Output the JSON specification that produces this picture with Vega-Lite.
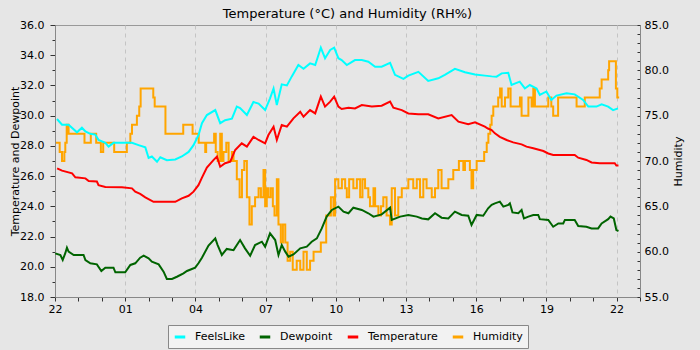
{
  "$schema": "https://vega.github.io/schema/vega-lite/v6.json",
  "width": 585,
  "height": 272,
  "autosize": "none",
  "padding": {"left": 55, "top": 25, "right": 60, "bottom": 53},
  "background": "#e6e6e6",
  "title": {"text": "Temperature (°C) and Humidity (RH%)", "fontSize": 13, "font": "DejaVu Sans", "fontWeight": "normal", "color": "#000000", "offset": -2},
  "config": {
    "font": "DejaVu Sans",
    "view": {"stroke": "#999999", "strokeWidth": 1},
    "axis": {
      "labelFont": "DejaVu Sans", "labelFontSize": 11, "labelColor": "#000000",
      "titleFont": "DejaVu Sans", "titleFontSize": 11, "titleFontWeight": "normal", "titleColor": "#000000",
      "domainColor": "#888888", "tickColor": "#333333",
      "gridColor": "#c4c4c4", "gridDash": [4, 4], "gridWidth": 1,
      "labelOverlap": false, "labelBound": false, "labelFlush": false
    }
  },
  "datasets": {
    "th": [
      {"t":0.085,"s":"FeelsLike","v":29.78},{"t":0.3,"s":"FeelsLike","v":29.4},{"t":0.58,"s":"FeelsLike","v":29.4},{"t":0.94,"s":"FeelsLike","v":28.9},{"t":1.15,"s":"FeelsLike","v":29.2},{"t":1.3,"s":"FeelsLike","v":28.95},{"t":1.51,"s":"FeelsLike","v":28.8},{"t":1.72,"s":"FeelsLike","v":28.75},{"t":1.86,"s":"FeelsLike","v":28.4},{"t":2.15,"s":"FeelsLike","v":28.2},{"t":2.29,"s":"FeelsLike","v":27.95},{"t":2.5,"s":"FeelsLike","v":28.2},{"t":3.0,"s":"FeelsLike","v":28.2},{"t":3.29,"s":"FeelsLike","v":28.2},{"t":3.57,"s":"FeelsLike","v":28.05},{"t":3.86,"s":"FeelsLike","v":27.9},{"t":4.0,"s":"FeelsLike","v":27.2},{"t":4.14,"s":"FeelsLike","v":27.3},{"t":4.36,"s":"FeelsLike","v":26.95},{"t":4.5,"s":"FeelsLike","v":27.25},{"t":4.78,"s":"FeelsLike","v":27.05},{"t":5.14,"s":"FeelsLike","v":27.1},{"t":5.42,"s":"FeelsLike","v":27.3},{"t":5.71,"s":"FeelsLike","v":27.6},{"t":5.92,"s":"FeelsLike","v":28.05},{"t":6.13,"s":"FeelsLike","v":28.7},{"t":6.28,"s":"FeelsLike","v":29.5},{"t":6.49,"s":"FeelsLike","v":30.04},{"t":6.85,"s":"FeelsLike","v":30.37},{"t":7.06,"s":"FeelsLike","v":29.5},{"t":7.27,"s":"FeelsLike","v":29.7},{"t":7.56,"s":"FeelsLike","v":29.8},{"t":7.77,"s":"FeelsLike","v":30.6},{"t":7.91,"s":"FeelsLike","v":30.5},{"t":8.2,"s":"FeelsLike","v":30.04},{"t":8.48,"s":"FeelsLike","v":30.9},{"t":8.7,"s":"FeelsLike","v":30.8},{"t":8.98,"s":"FeelsLike","v":30.37},{"t":9.19,"s":"FeelsLike","v":31.15},{"t":9.34,"s":"FeelsLike","v":31.8},{"t":9.48,"s":"FeelsLike","v":30.7},{"t":9.69,"s":"FeelsLike","v":32.07},{"t":9.91,"s":"FeelsLike","v":32.0},{"t":10.12,"s":"FeelsLike","v":32.6},{"t":10.4,"s":"FeelsLike","v":33.35},{"t":10.62,"s":"FeelsLike","v":33.1},{"t":10.9,"s":"FeelsLike","v":33.46},{"t":11.12,"s":"FeelsLike","v":33.35},{"t":11.36,"s":"FeelsLike","v":34.5},{"t":11.54,"s":"FeelsLike","v":33.8},{"t":11.76,"s":"FeelsLike","v":34.35},{"t":11.93,"s":"FeelsLike","v":34.5},{"t":12.11,"s":"FeelsLike","v":33.8},{"t":12.25,"s":"FeelsLike","v":33.68},{"t":12.47,"s":"FeelsLike","v":33.35},{"t":12.82,"s":"FeelsLike","v":33.68},{"t":13.11,"s":"FeelsLike","v":33.68},{"t":13.39,"s":"FeelsLike","v":33.57},{"t":13.68,"s":"FeelsLike","v":33.24},{"t":13.96,"s":"FeelsLike","v":33.24},{"t":14.32,"s":"FeelsLike","v":33.5},{"t":14.53,"s":"FeelsLike","v":32.7},{"t":14.89,"s":"FeelsLike","v":32.43},{"t":15.1,"s":"FeelsLike","v":32.65},{"t":15.53,"s":"FeelsLike","v":32.9},{"t":15.95,"s":"FeelsLike","v":32.3},{"t":16.38,"s":"FeelsLike","v":32.47},{"t":16.66,"s":"FeelsLike","v":32.7},{"t":17.09,"s":"FeelsLike","v":33.1},{"t":17.52,"s":"FeelsLike","v":32.87},{"t":17.95,"s":"FeelsLike","v":32.73},{"t":18.37,"s":"FeelsLike","v":32.65},{"t":18.66,"s":"FeelsLike","v":32.6},{"t":18.87,"s":"FeelsLike","v":32.58},{"t":19.09,"s":"FeelsLike","v":32.8},{"t":19.37,"s":"FeelsLike","v":32.84},{"t":19.51,"s":"FeelsLike","v":32.03},{"t":19.86,"s":"FeelsLike","v":32.25},{"t":20.08,"s":"FeelsLike","v":31.8},{"t":20.29,"s":"FeelsLike","v":32.03},{"t":20.58,"s":"FeelsLike","v":31.8},{"t":20.72,"s":"FeelsLike","v":31.37},{"t":21.0,"s":"FeelsLike","v":31.6},{"t":21.21,"s":"FeelsLike","v":31.04},{"t":21.43,"s":"FeelsLike","v":31.33},{"t":21.86,"s":"FeelsLike","v":31.48},{"t":22.21,"s":"FeelsLike","v":31.41},{"t":22.57,"s":"FeelsLike","v":31.04},{"t":22.79,"s":"FeelsLike","v":30.6},{"t":23.14,"s":"FeelsLike","v":30.6},{"t":23.36,"s":"FeelsLike","v":30.75},{"t":23.64,"s":"FeelsLike","v":30.6},{"t":23.85,"s":"FeelsLike","v":30.37},{"t":24.06,"s":"FeelsLike","v":30.48},
      {"t":0.01,"s":"Dewpoint","v":20.89},{"t":0.23,"s":"Dewpoint","v":20.78},{"t":0.33,"s":"Dewpoint","v":20.45},{"t":0.44,"s":"Dewpoint","v":20.9},{"t":0.51,"s":"Dewpoint","v":21.26},{"t":0.58,"s":"Dewpoint","v":21.0},{"t":0.8,"s":"Dewpoint","v":20.78},{"t":1.22,"s":"Dewpoint","v":20.78},{"t":1.3,"s":"Dewpoint","v":20.45},{"t":1.51,"s":"Dewpoint","v":20.23},{"t":1.79,"s":"Dewpoint","v":20.16},{"t":1.98,"s":"Dewpoint","v":19.72},{"t":2.15,"s":"Dewpoint","v":19.94},{"t":2.5,"s":"Dewpoint","v":19.94},{"t":2.58,"s":"Dewpoint","v":19.63},{"t":3.0,"s":"Dewpoint","v":19.63},{"t":3.22,"s":"Dewpoint","v":20.12},{"t":3.43,"s":"Dewpoint","v":20.23},{"t":3.64,"s":"Dewpoint","v":20.6},{"t":3.79,"s":"Dewpoint","v":20.74},{"t":4.0,"s":"Dewpoint","v":20.56},{"t":4.14,"s":"Dewpoint","v":20.34},{"t":4.43,"s":"Dewpoint","v":20.16},{"t":4.64,"s":"Dewpoint","v":19.68},{"t":4.78,"s":"Dewpoint","v":19.19},{"t":5.0,"s":"Dewpoint","v":19.19},{"t":5.21,"s":"Dewpoint","v":19.34},{"t":5.49,"s":"Dewpoint","v":19.56},{"t":5.64,"s":"Dewpoint","v":19.72},{"t":5.85,"s":"Dewpoint","v":19.85},{"t":5.99,"s":"Dewpoint","v":19.94},{"t":6.13,"s":"Dewpoint","v":20.23},{"t":6.28,"s":"Dewpoint","v":20.6},{"t":6.56,"s":"Dewpoint","v":21.4},{"t":6.85,"s":"Dewpoint","v":21.88},{"t":6.95,"s":"Dewpoint","v":21.44},{"t":7.13,"s":"Dewpoint","v":20.78},{"t":7.34,"s":"Dewpoint","v":21.18},{"t":7.63,"s":"Dewpoint","v":21.1},{"t":7.91,"s":"Dewpoint","v":21.77},{"t":8.12,"s":"Dewpoint","v":21.22},{"t":8.34,"s":"Dewpoint","v":20.73},{"t":8.55,"s":"Dewpoint","v":21.44},{"t":8.84,"s":"Dewpoint","v":21.66},{"t":8.98,"s":"Dewpoint","v":21.33},{"t":9.19,"s":"Dewpoint","v":22.21},{"t":9.41,"s":"Dewpoint","v":21.77},{"t":9.55,"s":"Dewpoint","v":20.78},{"t":9.69,"s":"Dewpoint","v":21.44},{"t":9.84,"s":"Dewpoint","v":21.0},{"t":9.98,"s":"Dewpoint","v":20.67},{"t":10.19,"s":"Dewpoint","v":20.82},{"t":10.48,"s":"Dewpoint","v":21.22},{"t":10.76,"s":"Dewpoint","v":21.33},{"t":10.97,"s":"Dewpoint","v":21.66},{"t":11.19,"s":"Dewpoint","v":21.88},{"t":11.4,"s":"Dewpoint","v":22.54},{"t":11.61,"s":"Dewpoint","v":23.32},{"t":11.83,"s":"Dewpoint","v":23.76},{"t":12.11,"s":"Dewpoint","v":23.98},{"t":12.33,"s":"Dewpoint","v":23.65},{"t":12.54,"s":"Dewpoint","v":23.54},{"t":12.75,"s":"Dewpoint","v":23.91},{"t":13.11,"s":"Dewpoint","v":23.76},{"t":13.39,"s":"Dewpoint","v":23.54},{"t":13.61,"s":"Dewpoint","v":23.32},{"t":13.96,"s":"Dewpoint","v":23.47},{"t":14.32,"s":"Dewpoint","v":23.91},{"t":14.39,"s":"Dewpoint","v":23.1},{"t":14.75,"s":"Dewpoint","v":23.32},{"t":15.1,"s":"Dewpoint","v":23.43},{"t":15.46,"s":"Dewpoint","v":23.32},{"t":15.68,"s":"Dewpoint","v":23.2},{"t":15.95,"s":"Dewpoint","v":23.14},{"t":16.24,"s":"Dewpoint","v":23.54},{"t":16.52,"s":"Dewpoint","v":23.25},{"t":16.81,"s":"Dewpoint","v":23.2},{"t":17.09,"s":"Dewpoint","v":23.65},{"t":17.38,"s":"Dewpoint","v":23.43},{"t":17.66,"s":"Dewpoint","v":23.38},{"t":17.8,"s":"Dewpoint","v":22.76},{"t":18.02,"s":"Dewpoint","v":23.43},{"t":18.3,"s":"Dewpoint","v":23.38},{"t":18.51,"s":"Dewpoint","v":23.87},{"t":18.66,"s":"Dewpoint","v":24.1},{"t":18.8,"s":"Dewpoint","v":24.2},{"t":19.01,"s":"Dewpoint","v":24.31},{"t":19.16,"s":"Dewpoint","v":23.98},{"t":19.37,"s":"Dewpoint","v":24.09},{"t":19.44,"s":"Dewpoint","v":24.2},{"t":19.55,"s":"Dewpoint","v":23.6},{"t":19.8,"s":"Dewpoint","v":23.54},{"t":19.94,"s":"Dewpoint","v":23.76},{"t":20.04,"s":"Dewpoint","v":23.2},{"t":20.23,"s":"Dewpoint","v":23.32},{"t":20.44,"s":"Dewpoint","v":23.43},{"t":20.65,"s":"Dewpoint","v":23.43},{"t":20.72,"s":"Dewpoint","v":23.15},{"t":21.08,"s":"Dewpoint","v":23.1},{"t":21.29,"s":"Dewpoint","v":22.65},{"t":21.51,"s":"Dewpoint","v":22.87},{"t":21.72,"s":"Dewpoint","v":22.87},{"t":21.79,"s":"Dewpoint","v":23.1},{"t":22.21,"s":"Dewpoint","v":23.1},{"t":22.36,"s":"Dewpoint","v":22.7},{"t":22.71,"s":"Dewpoint","v":22.65},{"t":22.93,"s":"Dewpoint","v":22.54},{"t":23.21,"s":"Dewpoint","v":22.54},{"t":23.36,"s":"Dewpoint","v":22.87},{"t":23.64,"s":"Dewpoint","v":23.15},{"t":23.74,"s":"Dewpoint","v":23.32},{"t":23.88,"s":"Dewpoint","v":23.2},{"t":23.99,"s":"Dewpoint","v":22.43},{"t":24.08,"s":"Dewpoint","v":22.37},
      {"t":0.09,"s":"Temperature","v":26.51},{"t":0.3,"s":"Temperature","v":26.36},{"t":0.73,"s":"Temperature","v":26.18},{"t":0.87,"s":"Temperature","v":25.92},{"t":1.3,"s":"Temperature","v":25.85},{"t":1.44,"s":"Temperature","v":25.68},{"t":1.79,"s":"Temperature","v":25.64},{"t":1.86,"s":"Temperature","v":25.4},{"t":2.15,"s":"Temperature","v":25.28},{"t":2.86,"s":"Temperature","v":25.26},{"t":3.29,"s":"Temperature","v":25.19},{"t":3.43,"s":"Temperature","v":24.97},{"t":3.64,"s":"Temperature","v":24.82},{"t":3.86,"s":"Temperature","v":24.6},{"t":4.21,"s":"Temperature","v":24.3},{"t":5.14,"s":"Temperature","v":24.3},{"t":5.42,"s":"Temperature","v":24.53},{"t":5.71,"s":"Temperature","v":24.7},{"t":5.92,"s":"Temperature","v":24.97},{"t":6.13,"s":"Temperature","v":25.4},{"t":6.28,"s":"Temperature","v":25.9},{"t":6.49,"s":"Temperature","v":26.56},{"t":6.77,"s":"Temperature","v":27.06},{"t":6.92,"s":"Temperature","v":27.29},{"t":7.06,"s":"Temperature","v":26.62},{"t":7.27,"s":"Temperature","v":26.85},{"t":7.49,"s":"Temperature","v":26.96},{"t":7.7,"s":"Temperature","v":27.73},{"t":7.98,"s":"Temperature","v":28.17},{"t":8.2,"s":"Temperature","v":27.95},{"t":8.48,"s":"Temperature","v":28.6},{"t":8.7,"s":"Temperature","v":28.39},{"t":8.98,"s":"Temperature","v":28.17},{"t":9.12,"s":"Temperature","v":28.72},{"t":9.34,"s":"Temperature","v":29.27},{"t":9.48,"s":"Temperature","v":28.39},{"t":9.69,"s":"Temperature","v":29.38},{"t":9.91,"s":"Temperature","v":29.27},{"t":10.19,"s":"Temperature","v":29.82},{"t":10.48,"s":"Temperature","v":30.26},{"t":10.62,"s":"Temperature","v":29.93},{"t":10.9,"s":"Temperature","v":30.37},{"t":11.12,"s":"Temperature","v":30.15},{"t":11.36,"s":"Temperature","v":31.26},{"t":11.54,"s":"Temperature","v":30.6},{"t":11.76,"s":"Temperature","v":30.93},{"t":11.93,"s":"Temperature","v":31.26},{"t":12.11,"s":"Temperature","v":30.6},{"t":12.25,"s":"Temperature","v":30.44},{"t":12.54,"s":"Temperature","v":30.53},{"t":12.82,"s":"Temperature","v":30.48},{"t":13.11,"s":"Temperature","v":30.7},{"t":13.54,"s":"Temperature","v":30.6},{"t":13.96,"s":"Temperature","v":30.66},{"t":14.32,"s":"Temperature","v":30.93},{"t":14.46,"s":"Temperature","v":30.53},{"t":14.82,"s":"Temperature","v":30.37},{"t":15.1,"s":"Temperature","v":30.15},{"t":15.53,"s":"Temperature","v":30.09},{"t":15.95,"s":"Temperature","v":30.09},{"t":16.38,"s":"Temperature","v":29.82},{"t":16.95,"s":"Temperature","v":30.04},{"t":17.24,"s":"Temperature","v":29.6},{"t":17.66,"s":"Temperature","v":29.43},{"t":17.95,"s":"Temperature","v":29.56},{"t":18.37,"s":"Temperature","v":29.27},{"t":18.5,"s":"Temperature","v":29.15},{"t":18.66,"s":"Temperature","v":29.05},{"t":18.8,"s":"Temperature","v":28.83},{"t":19.01,"s":"Temperature","v":28.6},{"t":19.3,"s":"Temperature","v":28.39},{"t":19.58,"s":"Temperature","v":28.23},{"t":19.94,"s":"Temperature","v":28.1},{"t":20.15,"s":"Temperature","v":27.95},{"t":20.44,"s":"Temperature","v":27.84},{"t":20.87,"s":"Temperature","v":27.66},{"t":21.08,"s":"Temperature","v":27.5},{"t":21.29,"s":"Temperature","v":27.4},{"t":21.72,"s":"Temperature","v":27.4},{"t":22.21,"s":"Temperature","v":27.4},{"t":22.36,"s":"Temperature","v":27.22},{"t":22.71,"s":"Temperature","v":27.07},{"t":22.93,"s":"Temperature","v":26.9},{"t":23.28,"s":"Temperature","v":26.85},{"t":23.92,"s":"Temperature","v":26.85},{"t":23.99,"s":"Temperature","v":26.7},{"t":24.08,"s":"Temperature","v":26.7}
    ],
    "hum": [
      {"t":0.04,"s":"Humidity","v":72},{"t":0.16,"s":"Humidity","v":72},{"t":0.2,"s":"Humidity","v":71},{"t":0.27,"s":"Humidity","v":71},{"t":0.3,"s":"Humidity","v":70},{"t":0.36,"s":"Humidity","v":70},{"t":0.4,"s":"Humidity","v":71},{"t":0.44,"s":"Humidity","v":72},{"t":0.5,"s":"Humidity","v":74},{"t":0.55,"s":"Humidity","v":74},{"t":0.58,"s":"Humidity","v":73},{"t":1.22,"s":"Humidity","v":73},{"t":1.26,"s":"Humidity","v":72},{"t":1.51,"s":"Humidity","v":72},{"t":1.53,"s":"Humidity","v":73},{"t":1.72,"s":"Humidity","v":73},{"t":1.76,"s":"Humidity","v":72},{"t":1.92,"s":"Humidity","v":72},{"t":1.96,"s":"Humidity","v":71},{"t":2.02,"s":"Humidity","v":71},{"t":2.06,"s":"Humidity","v":72},{"t":2.5,"s":"Humidity","v":72},{"t":2.53,"s":"Humidity","v":71},{"t":3.03,"s":"Humidity","v":71},{"t":3.07,"s":"Humidity","v":72},{"t":3.22,"s":"Humidity","v":73},{"t":3.29,"s":"Humidity","v":74},{"t":3.5,"s":"Humidity","v":75},{"t":3.6,"s":"Humidity","v":76},{"t":3.66,"s":"Humidity","v":78},{"t":4.16,"s":"Humidity","v":78},{"t":4.2,"s":"Humidity","v":77},{"t":4.26,"s":"Humidity","v":76},{"t":4.68,"s":"Humidity","v":76},{"t":4.72,"s":"Humidity","v":73},{"t":5.44,"s":"Humidity","v":73},{"t":5.48,"s":"Humidity","v":74},{"t":5.84,"s":"Humidity","v":74},{"t":5.88,"s":"Humidity","v":73},{"t":6.1,"s":"Humidity","v":73},{"t":6.14,"s":"Humidity","v":72},{"t":6.38,"s":"Humidity","v":72},{"t":6.42,"s":"Humidity","v":71},{"t":6.46,"s":"Humidity","v":72},{"t":6.74,"s":"Humidity","v":72},{"t":6.8,"s":"Humidity","v":73},{"t":6.87,"s":"Humidity","v":71},{"t":6.95,"s":"Humidity","v":70},{"t":7.06,"s":"Humidity","v":73},{"t":7.13,"s":"Humidity","v":70},{"t":7.2,"s":"Humidity","v":71},{"t":7.32,"s":"Humidity","v":72},{"t":7.42,"s":"Humidity","v":70},{"t":7.56,"s":"Humidity","v":71},{"t":7.63,"s":"Humidity","v":70},{"t":7.77,"s":"Humidity","v":68},{"t":7.89,"s":"Humidity","v":66},{"t":7.99,"s":"Humidity","v":69},{"t":8.09,"s":"Humidity","v":70},{"t":8.2,"s":"Humidity","v":66},{"t":8.31,"s":"Humidity","v":63},{"t":8.41,"s":"Humidity","v":65},{"t":8.55,"s":"Humidity","v":66},{"t":8.7,"s":"Humidity","v":67},{"t":8.8,"s":"Humidity","v":66},{"t":8.91,"s":"Humidity","v":69},{"t":8.98,"s":"Humidity","v":65},{"t":9.05,"s":"Humidity","v":67},{"t":9.12,"s":"Humidity","v":66},{"t":9.22,"s":"Humidity","v":67},{"t":9.31,"s":"Humidity","v":65},{"t":9.38,"s":"Humidity","v":64},{"t":9.48,"s":"Humidity","v":68},{"t":9.55,"s":"Humidity","v":63},{"t":9.65,"s":"Humidity","v":61},{"t":9.74,"s":"Humidity","v":63},{"t":9.84,"s":"Humidity","v":61},{"t":9.94,"s":"Humidity","v":59},{"t":10.05,"s":"Humidity","v":60},{"t":10.16,"s":"Humidity","v":58},{"t":10.33,"s":"Humidity","v":59},{"t":10.48,"s":"Humidity","v":58},{"t":10.62,"s":"Humidity","v":60},{"t":10.76,"s":"Humidity","v":58},{"t":10.9,"s":"Humidity","v":59},{"t":11.05,"s":"Humidity","v":60},{"t":11.26,"s":"Humidity","v":60},{"t":11.36,"s":"Humidity","v":61},{"t":11.47,"s":"Humidity","v":61},{"t":11.59,"s":"Humidity","v":64},{"t":11.69,"s":"Humidity","v":64},{"t":11.79,"s":"Humidity","v":66},{"t":11.9,"s":"Humidity","v":64},{"t":11.97,"s":"Humidity","v":68},{"t":12.11,"s":"Humidity","v":67},{"t":12.26,"s":"Humidity","v":68},{"t":12.4,"s":"Humidity","v":67},{"t":12.47,"s":"Humidity","v":66},{"t":12.57,"s":"Humidity","v":68},{"t":12.75,"s":"Humidity","v":67},{"t":12.9,"s":"Humidity","v":68},{"t":13.04,"s":"Humidity","v":66},{"t":13.14,"s":"Humidity","v":68},{"t":13.25,"s":"Humidity","v":67},{"t":13.39,"s":"Humidity","v":66},{"t":13.46,"s":"Humidity","v":65},{"t":13.61,"s":"Humidity","v":67},{"t":13.68,"s":"Humidity","v":65},{"t":13.82,"s":"Humidity","v":64},{"t":13.93,"s":"Humidity","v":65},{"t":14.03,"s":"Humidity","v":66},{"t":14.17,"s":"Humidity","v":64},{"t":14.32,"s":"Humidity","v":63},{"t":14.39,"s":"Humidity","v":67},{"t":14.53,"s":"Humidity","v":64},{"t":14.67,"s":"Humidity","v":66},{"t":14.82,"s":"Humidity","v":67},{"t":15.03,"s":"Humidity","v":67},{"t":15.1,"s":"Humidity","v":68},{"t":15.31,"s":"Humidity","v":67},{"t":15.46,"s":"Humidity","v":68},{"t":15.6,"s":"Humidity","v":66},{"t":15.74,"s":"Humidity","v":68},{"t":15.88,"s":"Humidity","v":67},{"t":16.1,"s":"Humidity","v":66},{"t":16.24,"s":"Humidity","v":67},{"t":16.38,"s":"Humidity","v":69},{"t":16.52,"s":"Humidity","v":67},{"t":16.73,"s":"Humidity","v":67},{"t":16.81,"s":"Humidity","v":68},{"t":16.98,"s":"Humidity","v":68},{"t":17.02,"s":"Humidity","v":69},{"t":17.24,"s":"Humidity","v":69},{"t":17.26,"s":"Humidity","v":70},{"t":17.45,"s":"Humidity","v":69},{"t":17.52,"s":"Humidity","v":70},{"t":17.66,"s":"Humidity","v":70},{"t":17.73,"s":"Humidity","v":69},{"t":17.8,"s":"Humidity","v":67},{"t":17.87,"s":"Humidity","v":69},{"t":18.02,"s":"Humidity","v":70},{"t":18.23,"s":"Humidity","v":70},{"t":18.34,"s":"Humidity","v":71},{"t":18.45,"s":"Humidity","v":72},{"t":18.52,"s":"Humidity","v":73},{"t":18.6,"s":"Humidity","v":74},{"t":18.66,"s":"Humidity","v":75},{"t":18.73,"s":"Humidity","v":76},{"t":18.87,"s":"Humidity","v":76},{"t":18.94,"s":"Humidity","v":77},{"t":19.02,"s":"Humidity","v":78},{"t":19.09,"s":"Humidity","v":76},{"t":19.23,"s":"Humidity","v":77},{"t":19.37,"s":"Humidity","v":78},{"t":19.47,"s":"Humidity","v":76},{"t":19.73,"s":"Humidity","v":76},{"t":19.87,"s":"Humidity","v":77},{"t":19.94,"s":"Humidity","v":75},{"t":20.15,"s":"Humidity","v":75},{"t":20.23,"s":"Humidity","v":77},{"t":20.37,"s":"Humidity","v":76},{"t":20.44,"s":"Humidity","v":78},{"t":20.51,"s":"Humidity","v":76},{"t":21.0,"s":"Humidity","v":76},{"t":21.08,"s":"Humidity","v":77},{"t":21.21,"s":"Humidity","v":76},{"t":21.29,"s":"Humidity","v":75},{"t":21.43,"s":"Humidity","v":75},{"t":21.5,"s":"Humidity","v":77},{"t":22.26,"s":"Humidity","v":77},{"t":22.29,"s":"Humidity","v":76},{"t":22.57,"s":"Humidity","v":76},{"t":22.64,"s":"Humidity","v":77},{"t":23.21,"s":"Humidity","v":77},{"t":23.28,"s":"Humidity","v":78},{"t":23.36,"s":"Humidity","v":79},{"t":23.57,"s":"Humidity","v":79},{"t":23.64,"s":"Humidity","v":80},{"t":23.68,"s":"Humidity","v":81},{"t":23.88,"s":"Humidity","v":81},{"t":23.97,"s":"Humidity","v":78},{"t":24.03,"s":"Humidity","v":77},{"t":24.11,"s":"Humidity","v":77}
    ]
  },
  "encoding": {
    "x": {
      "field": "t", "type": "quantitative",
      "scale": {"domain": [0, 25], "nice": false, "zero": false},
      "axis": {
        "title": null,
        "values": [0,1,2,3,4,5,6,7,8,9,10,11,12,13,14,15,16,17,18,19,20,21,22,23,24,25],
        "labelExpr": "datum.value % 3 === 0 ? ((((22 + datum.value) % 24) < 10 ? '0' : '') + ((22 + datum.value) % 24)) : ''",
        "tickSize": 4,
        "labelPadding": 2,
        "gridOpacity": {"condition": {"test": "datum.value % 3 === 0", "value": 1}, "value": 0}
      }
    },
    "color": {
      "field": "s", "type": "nominal",
      "scale": {"domain": ["FeelsLike", "Dewpoint", "Temperature", "Humidity"], "range": ["#00ffff", "#006400", "#ff0000", "#ffa500"]},
      "legend": {
        "title": null, "orient": "none", "legendX": 113, "legendY": 300,
        "direction": "horizontal", "symbolType": "stroke", "symbolSize": 110, "symbolStrokeWidth": 3,
        "labelFont": "DejaVu Sans", "labelFontSize": 11, "labelColor": "#000000",
        "labelOffset": 8, "columnPadding": 8, "padding": 5,
        "strokeColor": "#888888", "fillColor": "#f2f2f2", "cornerRadius": 0
      }
    }
  },
  "layer": [
    {
      "data": {"name": "hum"},
      "mark": {"type": "line", "strokeWidth": 2, "interpolate": "step-after"},
      "encoding": {
        "y": {
          "field": "v", "type": "quantitative",
          "scale": {"domain": [55, 85], "nice": false, "zero": false},
          "axis": {
            "orient": "right", "title": "Humidity", "titleAngle": 270, "titlePadding": 15,
            "values": [55,56,57,58,59,60,61,62,63,64,65,66,67,68,69,70,71,72,73,74,75,76,77,78,79,80,81,82,83,84,85],
            "labelExpr": "datum.value % 5 === 0 ? format(datum.value, '.1f') : ''",
            "tickSize": -3, "labelPadding": 7, "grid": false
          }
        }
      }
    },
    {
      "data": {"name": "th"},
      "mark": {"type": "line", "strokeWidth": 2},
      "encoding": {
        "y": {
          "field": "v", "type": "quantitative",
          "scale": {"domain": [18, 36], "nice": false, "zero": false},
          "axis": {
            "orient": "left", "title": "Temperature and Dewpoint", "titlePadding": -1,
            "values": [18,19,20,21,22,23,24,25,26,27,28,29,30,31,32,33,34,35,36],
            "labelExpr": "datum.value % 2 === 0 ? format(datum.value, '.1f') : ''",
            "tickSize": {"condition": {"test": "datum.value % 2 === 0", "value": 5}, "value": 3},
            "labelPadding": 6,
            "gridOpacity": {"condition": {"test": "datum.value % 2 === 0", "value": 1}, "value": 0}
          }
        }
      }
    }
  ],
  "resolve": {"scale": {"y": "independent"}}
}
